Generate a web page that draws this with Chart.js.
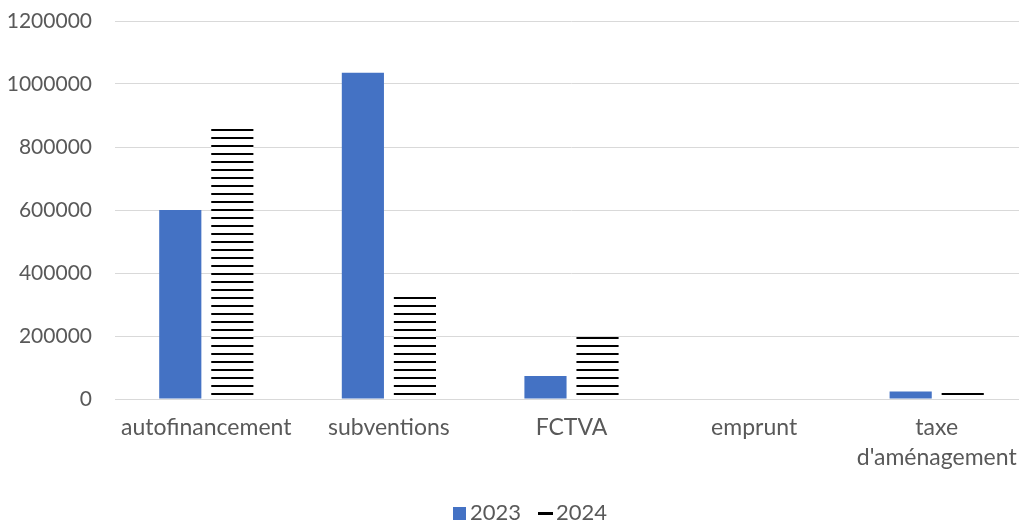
<!DOCTYPE html>
<html lang="fr">
<head>
<meta charset="utf-8">
<script src="https://cdn.jsdelivr.net/npm/chart.js@4.4.1/dist/chart.umd.min.js"></script>
<style>
  html, body { margin: 0; padding: 0; background: #fff; overflow: hidden; }
  #wrap { width: 1058px; height: 524px; position: relative; }
</style>
</head>
<body>
<div id="wrap"><canvas id="chart"></canvas></div>
<script>
const categories = ['autofinancement', 'subventions', 'FCTVA', 'emprunt', ['taxe', "d'aménagement"]];
const seriesNames = ['2023', '2024'];
const values2023 = [600000, 1036000, 73000, 0, 24000];
const values2024 = [861000, 330000, 197000, 0, 21000];
const yTicks = [0, 200000, 400000, 600000, 800000, 1000000, 1200000];

const BLUE = '#4472C4';
const TEXT = '#595959';
const FONT = 'Lato, "Open Sans", sans-serif';

// horizontal black stripes on white, used for the 2024 bars
function stripePattern() {
    const c = document.createElement('canvas');
    c.width = 8; c.height = 8;
    const g = c.getContext('2d');
    g.fillStyle = '#fff';
    g.fillRect(0, 0, 8, 8);
    g.fillStyle = '#000';
    g.fillRect(0, 1, 8, 2);
    return g.createPattern(c, 'repeat');
}

// legend under the plot: blue square for 2023, short black dash for 2024
const bottomLegend = {
    id: 'bottomLegend',
    afterDraw(chart) {
        const g = chart.ctx;
        g.save();
        g.font = '22px ' + FONT;
        g.textBaseline = 'alphabetic';
        g.fillStyle = BLUE;
        g.fillRect(453, 507, 13, 13);
        g.fillStyle = TEXT;
        g.fillText(seriesNames[0], 470, 520);
        g.fillStyle = '#000';
        g.fillRect(538, 512, 15, 3);
        g.fillStyle = TEXT;
        g.fillText(seriesNames[1], 556, 520);
        g.restore();
    }
};

const ctx = document.getElementById('chart').getContext('2d');

new Chart(ctx, {
    type: 'bar',
    data: {
        labels: categories,
        datasets: [
            { label: seriesNames[0], data: values2023, backgroundColor: BLUE,
              categoryPercentage: 0.57, barPercentage: 0.81 },
            { label: seriesNames[1], data: values2024, backgroundColor: stripePattern(),
              categoryPercentage: 0.57, barPercentage: 0.81 }
        ]
    },
    plugins: [bottomLegend],
    options: {
        responsive: true,
        maintainAspectRatio: false,
        animation: false,
        layout: { padding: { top: 21, right: 30, bottom: 0, left: 0 } },
        plugins: {
            tooltip: { enabled: false },
            legend: { display: false }
        },
        scales: {
            x: {
                afterFit: s => { s.height = 125; },
                grid: { display: false },
                border: { color: '#D9D9D9', width: 1 },
                ticks: { color: TEXT, font: { family: FONT, size: 23, lineHeight: 1.3 }, padding: 6,
                         maxRotation: 0, autoSkip: false }
            },
            y: {
                min: 0,
                max: 1200000,
                afterBuildTicks: s => { s.ticks = yTicks.map(v => ({ value: v })); },
                afterFit: s => { s.width = 115; s.paddingTop = 0; s.paddingBottom = 0; },
                grid: { color: '#D9D9D9', lineWidth: 1, drawTicks: false },
                border: { display: false },
                ticks: { color: TEXT, font: { family: FONT, size: 21 }, padding: 23,
                         callback: v => String(v) }
            }
        }
    }
});
</script>
</body>
</html>
